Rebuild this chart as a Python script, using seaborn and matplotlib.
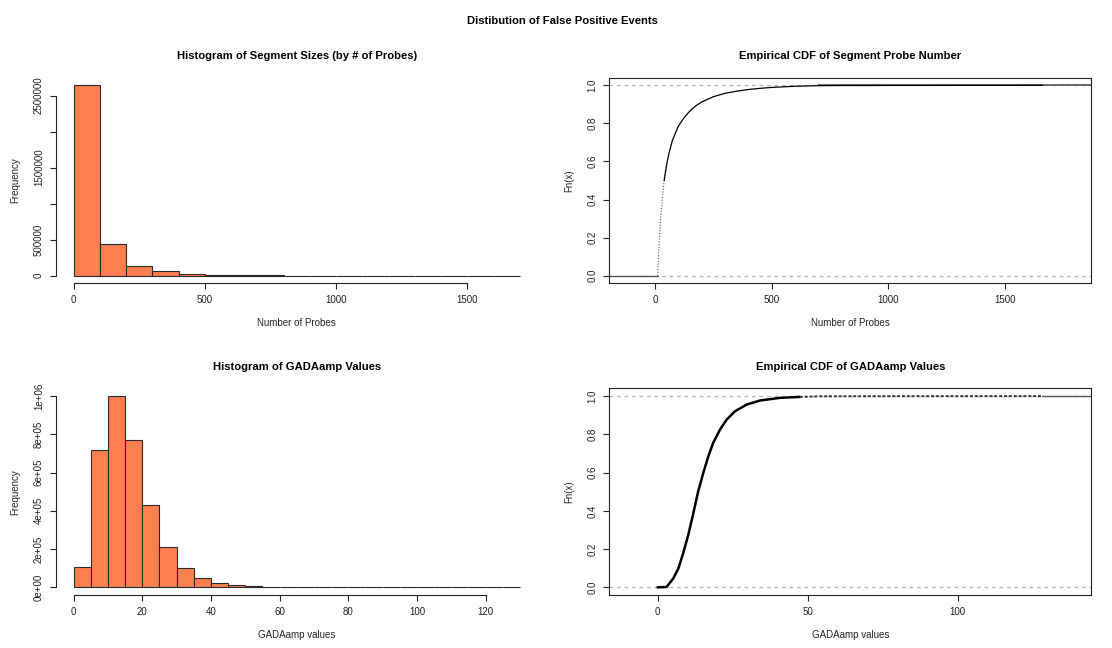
import matplotlib
matplotlib.use("Agg")
import matplotlib.pyplot as plt
import seaborn as sns
import numpy as np
import pandas as pd

# ---------------- data ----------------
probe_edges = [0, 100, 200, 300, 400, 500, 600, 700, 800, 900, 1000,
               1100, 1200, 1300, 1400, 1500, 1600, 1700]
probe_counts = [2644000, 447000, 140000, 65000, 30000, 14000, 7000, 4000,
                2500, 1500, 1000, 600, 400, 300, 200, 100, 50]

gada_edges = [0, 5, 10, 15, 20, 25, 30, 35, 40, 45, 50, 55, 60, 65, 70,
              75, 80, 85, 90, 95, 100, 105, 110, 115, 120, 125, 130]
gada_counts = [107000, 718000, 1000000, 773000, 430000, 211000, 101000,
               47000, 23000, 12000, 6000, 3000, 1500, 800, 400, 200, 120,
               80, 50, 30, 20, 10, 8, 5, 3, 2]

# empirical CDF of probe number (knots)
probe_ecdf_x = [12, 15, 20, 25, 30, 40, 50, 60, 75, 100, 125, 150, 175, 200,
                250, 300, 350, 400, 450, 500, 600, 700, 800, 1660]
probe_ecdf_y = [0.0, 0.08, 0.20, 0.30, 0.38, 0.50, 0.58, 0.64, 0.71, 0.784,
                0.83, 0.865, 0.892, 0.912, 0.94, 0.958, 0.969, 0.978, 0.984,
                0.989, 0.995, 0.998, 0.999, 1.0]

# empirical CDF of GADAamp values
gada_ecdf_x = [0, 3, 5.2, 6.9, 8.5, 10.2, 11.9, 13.5, 15.2, 16.9, 18.5,
               20.8, 23.0, 25.8, 29.7, 34.1, 40.8, 47.4, 54, 70, 128]
gada_ecdf_y = [0.0, 0.002, 0.046, 0.098, 0.177, 0.273, 0.387, 0.50, 0.597,
               0.685, 0.755, 0.825, 0.877, 0.921, 0.956, 0.977, 0.991, 0.996,
               0.999, 0.9995, 1.0]

suptitle = "Distibution of False Positive Events"
titles = ["Histogram of Segment Sizes (by # of Probes)",
          "Empirical CDF of Segment Probe Number",
          "Histogram of GADAamp Values",
          "Empirical CDF of GADAamp Values"]

# ---------------- style ----------------
sns.set_theme(style="white")
plt.rcParams["font.family"] = ["Liberation Sans", "DejaVu Sans"]
plt.rcParams["axes.edgecolor"] = "#222222"
plt.rcParams["xtick.color"] = "#222222"
plt.rcParams["ytick.color"] = "#222222"
plt.rcParams["text.color"] = "black"
plt.rcParams["lines.solid_joinstyle"] = "round"

TICK_FS = 7.0
LAB_FS = 7.0
TITLE_FS = 8.1
CORAL = "#FF7F50"

fig = plt.figure(figsize=(11.12, 6.48), dpi=100)
ax_tl = fig.add_axes([0.0501, 0.5628, 0.4335, 0.3173])
ax_tr = fig.add_axes([0.5479, 0.5628, 0.4335, 0.3173])
ax_bl = fig.add_axes([0.0501, 0.0818, 0.4335, 0.3187])
ax_br = fig.add_axes([0.5479, 0.0818, 0.4335, 0.3187])


def style_axes(ax, box):
    ax.set_facecolor("white")
    for s in ax.spines.values():
        s.set_linewidth(0.8)
        s.set_color("#222222")
    if not box:
        ax.spines["top"].set_visible(False)
        ax.spines["right"].set_visible(False)
    ax.tick_params(axis="both", direction="out", length=4, width=0.8,
                   labelsize=TICK_FS, pad=4.5, bottom=True, left=True)
    ax.grid(False)


def labels(ax, title, xlabel, ylabel):
    ax.set_title(title, fontsize=TITLE_FS, fontweight="bold", pad=13.5)
    ax.set_xlabel(xlabel, fontsize=LAB_FS, va="center")
    ax.set_ylabel(ylabel, fontsize=LAB_FS, va="center")
    h = ax.get_position().height * 648
    w = ax.get_position().width * 1112
    ax.xaxis.set_label_coords(0.5, -40.0 / h)
    ax.yaxis.set_label_coords(-40.5 / w, 0.5)


def hist_panel(ax, edges, counts):
    mids = [(a + b) / 2 for a, b in zip(edges[:-1], edges[1:])]
    df = pd.DataFrame({"x": mids, "w": counts})
    sns.histplot(data=df, x="x", weights="w", bins=list(edges), ax=ax,
                 color=CORAL, alpha=1.0, edgecolor="#2a2a2a", linewidth=0.8)


# ---- top-left histogram ----
hist_panel(ax_tl, probe_edges, probe_counts)
style_axes(ax_tl, box=False)
m = max(probe_counts)
ax_tl.set_xlim(-68, 1768)
ax_tl.set_ylim(-0.04 * m, 1.04 * m)
ax_tl.set_xticks([0, 500, 1000, 1500], labels=["0", "500", "1000", "1500"])
ax_tl.set_yticks([0, 500000, 1000000, 1500000, 2000000, 2500000],
                 labels=["0", "500000", "", "1500000", "", "2500000"],
                 rotation=90, va="center")
ax_tl.spines["left"].set_bounds(0, 2500000)
ax_tl.spines["bottom"].set_bounds(0, 1500)
labels(ax_tl, titles[0], "Number of Probes", "Frequency")

# ---- bottom-left histogram ----
hist_panel(ax_bl, gada_edges, gada_counts)
style_axes(ax_bl, box=False)
m = max(gada_counts)
ax_bl.set_xlim(-5.2, 135.2)
ax_bl.set_ylim(-0.04 * m, 1.04 * m)
ax_bl.set_xticks([0, 20, 40, 60, 80, 100, 120],
                 labels=["0", "20", "40", "60", "80", "100", "120"])
ax_bl.set_yticks([0, 200000, 400000, 600000, 800000, 1000000],
                 labels=["0e+00", "2e+05", "4e+05", "6e+05", "8e+05", "1e+06"],
                 rotation=90, va="center")
ax_bl.spines["left"].set_bounds(0, 1000000)
ax_bl.spines["bottom"].set_bounds(0, 120)
labels(ax_bl, titles[2], "GADAamp values", "Frequency")

# ---- top-right ECDF ----
ax = ax_tr
ax.axhline(0, color="#B3B3B3", lw=0.9, ls=(0, (3, 3)), zorder=1)
ax.axhline(1, color="#B3B3B3", lw=0.9, ls=(0, (3, 3)), zorder=1)
pdf = pd.DataFrame({"x": probe_ecdf_x, "y": probe_ecdf_y})
steep = pdf[pdf["x"] <= 50]
flat = pdf[pdf["x"] >= 40]
sns.lineplot(data=steep, x="x", y="y", ax=ax, color="#555555", lw=0.8,
             ls=(0, (1, 1.5)), zorder=3)
sns.lineplot(data=flat, x="x", y="y", ax=ax, color="black", lw=0.9, zorder=3)
ax.plot([-195, probe_ecdf_x[0]], [0, 0], color="#444444", lw=0.9, zorder=2)
ax.plot([probe_ecdf_x[-3], 1868], [1, 1], color="#555555", lw=1.2, zorder=2)
style_axes(ax, box=True)
ax.set_xlim(-195, 1868)
ax.set_ylim(-0.04, 1.04)
ax.set_xticks([0, 500, 1000, 1500], labels=["0", "500", "1000", "1500"])
ax.set_yticks([0, 0.2, 0.4, 0.6, 0.8, 1.0],
              labels=["0.0", "0.2", "0.4", "0.6", "0.8", "1.0"],
              rotation=90, va="center")
labels(ax, titles[1], "Number of Probes", "Fn(x)")

# ---- bottom-right ECDF ----
ax = ax_br
ax.axhline(0, color="#B3B3B3", lw=0.9, ls=(0, (3, 3)), zorder=1)
ax.axhline(1, color="#B3B3B3", lw=0.9, ls=(0, (3, 3)), zorder=1)
gdf = pd.DataFrame({"x": gada_ecdf_x, "y": gada_ecdf_y})
main = gdf[gdf["x"] <= 48]
tail = gdf[gdf["x"] >= 47]
sns.lineplot(data=main, x="x", y="y", ax=ax, color="black", lw=1.8, zorder=3)
sns.lineplot(data=tail, x="x", y="y", ax=ax, color="#333333", lw=1.4,
             ls=(0, (1.5, 1)), zorder=3)
ax.plot([gada_ecdf_x[-1], 144.5], [1, 1], color="#555555", lw=1.0, zorder=2)
style_axes(ax, box=True)
ax.set_xlim(-16.1, 144.5)
ax.set_ylim(-0.04, 1.04)
ax.set_xticks([0, 50, 100], labels=["0", "50", "100"])
ax.set_yticks([0, 0.2, 0.4, 0.6, 0.8, 1.0],
              labels=["0.0", "0.2", "0.4", "0.6", "0.8", "1.0"],
              rotation=90, va="center")
labels(ax, titles[3], "GADAamp values", "Fn(x)")

fig.text(562 / 1112, 1 - 23.5 / 648, suptitle, ha="center", va="baseline",
         fontsize=TITLE_FS, fontweight="bold")

fig.savefig("out.png", dpi=100, facecolor="white")
